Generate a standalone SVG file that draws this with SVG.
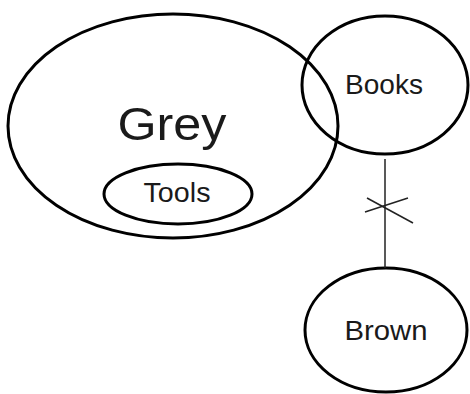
<svg xmlns="http://www.w3.org/2000/svg" width="470" height="394" viewBox="0 0 470 394">
<style>
.n{fill:none;stroke:#000;stroke-width:3}
.t{font-family:"Liberation Sans",Arial,sans-serif;fill:#1a1a1a;text-anchor:middle}
.c{stroke:#222;stroke-width:1.5;fill:none}
</style>
<rect width="470" height="394" fill="#fff"/>
<g id="grey">
<ellipse class="n" cx="173" cy="126" rx="165" ry="112"/>
<text class="t" x="172" y="140" font-size="46" textLength="109" lengthAdjust="spacingAndGlyphs">Grey</text>
</g>
<g id="tools">
<ellipse class="n" cx="178" cy="194" rx="74" ry="30"/>
<text class="t" x="177" y="202" font-size="28" textLength="67" lengthAdjust="spacingAndGlyphs">Tools</text>
</g>
<g id="books">
<ellipse class="n" cx="385" cy="85" rx="83" ry="69"/>
<text class="t" x="384" y="94" font-size="28" textLength="78" lengthAdjust="spacingAndGlyphs">Books</text>
</g>
<g id="brown">
<ellipse class="n" cx="386" cy="330" rx="81" ry="62"/>
<text class="t" x="386" y="340" font-size="28" textLength="83" lengthAdjust="spacingAndGlyphs">Brown</text>
</g>
<g id="connectors">
<line class="c" x1="385" y1="159" x2="385" y2="268"/>
<line class="c" x1="365" y1="212" x2="408" y2="198"/>
<line class="c" x1="367" y1="198" x2="413" y2="223"/>
</g>
</svg>
